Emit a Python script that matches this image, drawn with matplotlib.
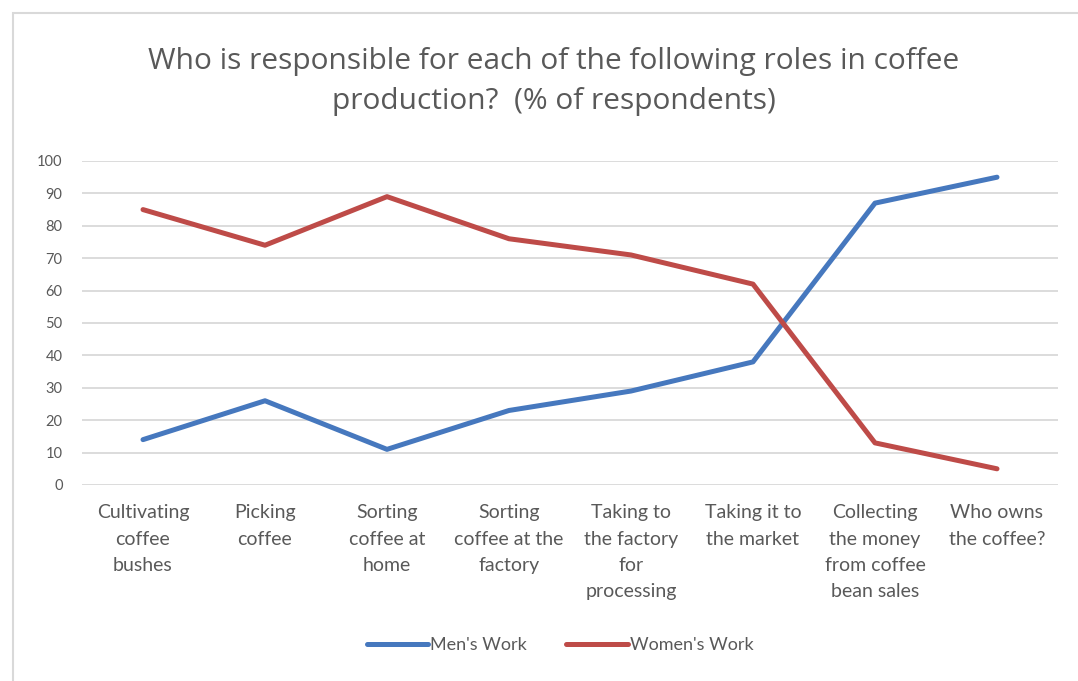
import matplotlib
matplotlib.use("Agg")
import matplotlib.pyplot as plt
from matplotlib.patches import Rectangle
from matplotlib.lines import Line2D

categories = ["Cultivating\ncoffee\nbushes", "Picking\ncoffee", "Sorting\ncoffee at\nhome",
              "Sorting\ncoffee at the\nfactory", "Taking to\nthe factory\nfor\nprocessing",
              "Taking it to\nthe market", "Collecting\nthe money\nfrom coffee\nbean sales",
              "Who owns\nthe coffee?"]
mens = [14, 26, 11, 23, 29, 38, 87, 95]
womens = [85, 74, 89, 76, 71, 62, 13, 5]
yticks = list(range(0, 101, 10))

blue = "#4678BE"
red = "#BE4B48"
txt = "#595959"

fig = plt.figure(figsize=(10.78, 6.81), dpi=100)
fig.patches.append(Rectangle((13/1078, -0.1), 1.2, 1 - 13/681 + 0.1, transform=fig.transFigure,
                             fill=False, edgecolor="#D9D9D9", linewidth=1.5))
ax = fig.add_axes([82/1078, 1 - 485/681, (1058-82)/1078, (485-161)/681])
x = list(range(len(categories)))
ax.plot(x, mens, color=blue, lw=3.6, solid_capstyle="round", solid_joinstyle="round", label="Men's Work")
ax.plot(x, womens, color=red, lw=3.6, solid_capstyle="round", solid_joinstyle="round", label="Women's Work")
ax.set_xlim(-0.5, len(categories) - 0.5)
ax.set_ylim(0, 100)
ax.set_yticks(yticks)
ax.set_yticklabels([str(v) for v in yticks], fontsize=10.5, color=txt, family="Lato")
ax.set_xticks(x)
ax.set_xticklabels(categories, fontsize=14, color=txt, family="Lato", linespacing=1.66, va="top")
ax.tick_params(axis="both", length=0)
ax.tick_params(axis="y", pad=14)
ax.tick_params(axis="x", pad=14)
ax.grid(axis="y", color="#D9D9D9", lw=1.3)
ax.set_axisbelow(True)
for s in ax.spines.values():
    s.set_visible(False)

fig.text(554/1078, 1 - 81/681, "Who is responsible for each of the following roles in coffee\nproduction?  (% of respondents)",
         ha="center", va="center", fontsize=21.5, color=txt, family="Open Sans", linespacing=1.5)

handles = [Line2D([], [], color=blue, lw=3.6, solid_capstyle="round"),
           Line2D([], [], color=red, lw=3.6, solid_capstyle="round")]
fig.legend(handles, ["Men's Work", "Women's Work"], loc="center", bbox_to_anchor=(560/1078, 1 - 645/681),
           ncol=2, frameon=False, prop={"family": "Lato", "size": 13}, labelcolor=txt,
           handlelength=3.4, handletextpad=0.1, columnspacing=2.2)

fig.savefig("out.png", dpi=100)
